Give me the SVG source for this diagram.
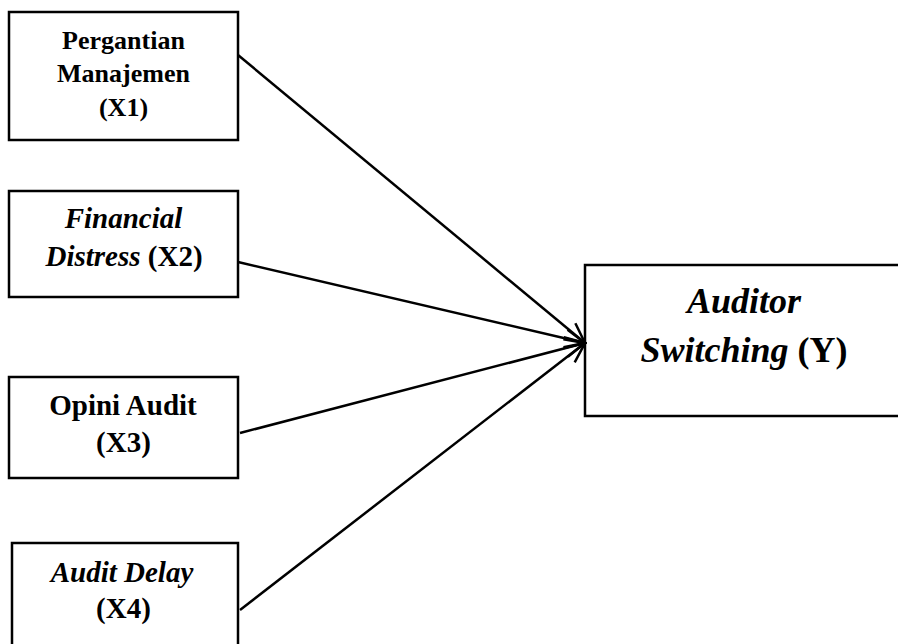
<svg xmlns="http://www.w3.org/2000/svg" width="898" height="644" viewBox="0 0 898 644">
<style>
.box{fill:#fff;stroke:#000;stroke-width:2.5}
.t{font-family:"Liberation Serif","Times New Roman",serif;font-weight:bold;fill:#000;text-anchor:middle}
.s{font-size:26px}
.m{font-size:29px}
.b{font-size:36px}
.conn{stroke:#000;stroke-width:2.5;fill:none;marker-end:url(#ah)}
</style>
<defs>
<marker id="ah" viewBox="0 0 24 24" refX="22" refY="12" markerWidth="24" markerHeight="24" markerUnits="userSpaceOnUse" orient="auto">
<path d="M2,3 L22,12 L2,21" fill="none" stroke="#000" stroke-width="2.5"/>
</marker>
</defs>
<g id="x1">
<rect class="box" x="9" y="12" width="229" height="128"/>
<text class="t s" x="123.5" y="49">Pergantian</text>
<text class="t s" x="123.5" y="82">Manajemen</text>
<text class="t s" x="123.5" y="116">(X1)</text>
</g>
<g id="x2">
<rect class="box" x="9" y="191" width="229" height="106"/>
<text class="t m" x="123.5" y="228"><tspan font-style="italic">Financial</tspan></text>
<text class="t m" x="124" y="266"><tspan font-style="italic">Distress</tspan> (X2)</text>
</g>
<g id="x3">
<rect class="box" x="9" y="377" width="229" height="101"/>
<text class="t m" x="123" y="415">Opini Audit</text>
<text class="t m" x="123.5" y="452">(X3)</text>
</g>
<g id="x4">
<rect class="box" x="12" y="543" width="226" height="110"/>
<text class="t m" x="122" y="582" font-style="italic">Audit Delay</text>
<text class="t m" x="123.5" y="618">(X4)</text>
</g>
<g id="y">
<rect class="box" x="585" y="265" width="320" height="151"/>
<text class="t b" x="744" y="313" font-style="italic">Auditor</text>
<text class="t b" x="744" y="362"><tspan font-style="italic">Switching</tspan> (Y)</text>
</g>
<g id="connectors">
<line class="conn" x1="238" y1="55" x2="585" y2="343"/>
<line class="conn" x1="238" y1="262" x2="585" y2="343"/>
<line class="conn" x1="240" y1="433" x2="585" y2="343"/>
<line class="conn" x1="240" y1="610" x2="585" y2="343"/>
</g>
</svg>
